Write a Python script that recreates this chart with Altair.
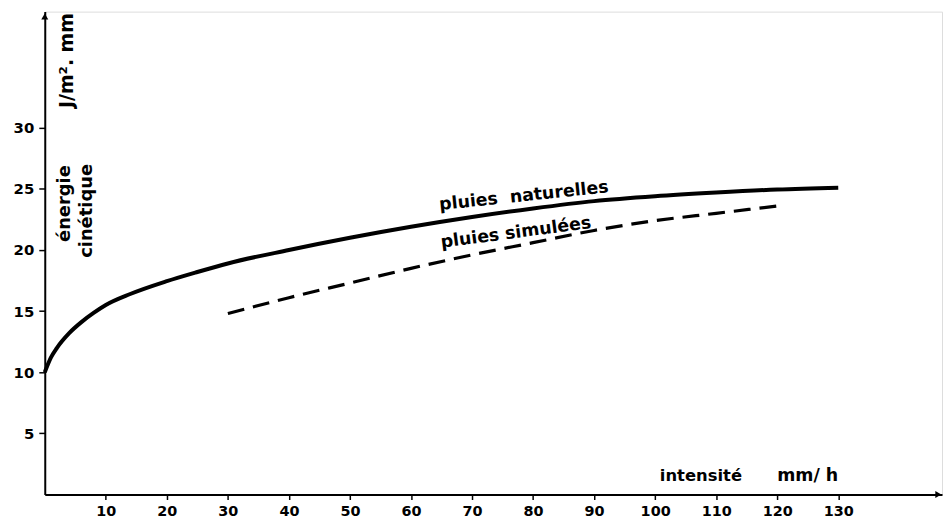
import altair as alt
import pandas as pd

# --- data ---
natural_x = [0, 1, 2, 4, 6, 8, 10, 14, 20, 25, 30, 40, 50, 60, 70, 80, 90, 100, 110, 120, 130]
natural_y = [10.0, 11.2, 12.0, 13.2, 14.1, 14.85, 15.5, 16.4, 17.45, 18.2, 18.9, 20.0, 21.0,
             21.9, 22.7, 23.4, 24.0, 24.4, 24.7, 24.95, 25.1]
sim_x = [30, 40, 50, 60, 70, 80, 90, 100, 110, 120]
sim_y = [14.8, 16.1, 17.3, 18.5, 19.6, 20.6, 21.6, 22.4, 23.0, 23.6]
x_ticks = [10, 20, 30, 40, 50, 60, 70, 80, 90, 100, 110, 120, 130]
y_ticks = [5, 10, 15, 20, 25, 30]
x_max = 147
y_max = 39.5

FONT = "DejaVu Sans"

nat = pd.DataFrame({"x": natural_x, "y": natural_y})
sim = pd.DataFrame({"x": sim_x, "y": sim_y})

xs = alt.Scale(domain=[0, x_max], nice=False, zero=False)
ys = alt.Scale(domain=[0, y_max], nice=False, zero=False)

x_axis = alt.Axis(values=x_ticks, title=None, grid=False, domainColor="black", domainWidth=2,
                  tickColor="black", tickWidth=1.5, tickSize=5, labelPadding=5,
                  labelFont=FONT, labelFontWeight="bold", labelFontSize=14.5, labelColor="black")
y_axis = alt.Axis(values=y_ticks, title=None, grid=False, domainColor="black", domainWidth=2,
                  tickColor="black", tickWidth=1.5, tickSize=6, labelPadding=5,
                  labelFont=FONT, labelFontWeight="bold", labelFontSize=15, labelColor="black")

base_nat = alt.Chart(nat).mark_line(color="black", strokeWidth=4, interpolate="monotone").encode(
    x=alt.X("x:Q", scale=xs, axis=x_axis),
    y=alt.Y("y:Q", scale=ys, axis=y_axis),
)
line_sim = alt.Chart(sim).mark_line(color="black", strokeWidth=3.2, strokeDash=[17, 9],
                                    interpolate="monotone").encode(
    x=alt.X("x:Q", scale=xs), y=alt.Y("y:Q", scale=ys))

def txt(label, x, y, angle=0, size=16, align="center", baseline="middle"):
    d = pd.DataFrame({"x": [x], "y": [y], "t": [label]})
    return alt.Chart(d).mark_text(font=FONT, fontWeight="bold", fontSize=size, color="black",
                                  angle=angle, align=align, baseline=baseline).encode(
        x=alt.X("x:Q", scale=xs), y=alt.Y("y:Q", scale=ys), text="t:N")

labels = [
    txt("pluies\u00a0\u00a0naturelles", 78.5, 24.4, angle=354, size=17.5),
    txt("pluies simulées", 77.2, 21.4, angle=352.5, size=17.5),
    txt("énergie", 3.4, 23.8, angle=270, size=18),
    txt("cinétique", 7.0, 23.2, angle=270, size=18),
    txt("J/m².\u00a0mm", 3.6, 35.5, angle=270, size=19),
    txt("intensité", 107.5, 1.55, size=16.5),
    txt("mm/\u00a0h", 125.0, 1.55, size=17.5),
]

arr_x = pd.DataFrame({"x": [x_max - 0.6], "y": [0]})
arr_y = pd.DataFrame({"x": [0], "y": [y_max - 0.4]})
arrow_r = alt.Chart(arr_x).mark_point(shape="triangle-right", filled=True, color="black",
                                      size=50, opacity=1).encode(
    x=alt.X("x:Q", scale=xs), y=alt.Y("y:Q", scale=ys))
arrow_u = alt.Chart(arr_y).mark_point(shape="triangle-up", filled=True, color="black",
                                      size=50, opacity=1).encode(
    x=alt.X("x:Q", scale=xs), y=alt.Y("y:Q", scale=ys))

chart = alt.layer(base_nat, line_sim, arrow_r, arrow_u, *labels).properties(
    width=903, height=486,
    autosize=alt.AutoSizeParams(type="none"),
    padding={"left": 37, "top": 2, "right": 2, "bottom": 24},
).configure_view(stroke=None).configure(background="white")

chart.save("out.html", embed_options={"renderer": "svg", "actions": False})
